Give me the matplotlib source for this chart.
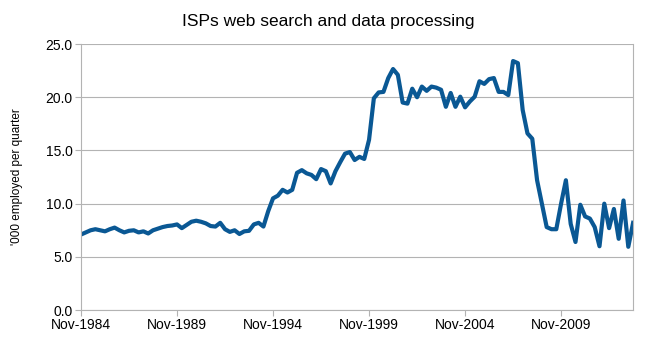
import numpy as np
import pandas as pd
import matplotlib
matplotlib.use("Agg")
import matplotlib.pyplot as plt

# Serie trimestral, Nov-1984 a Aug-2013 (miles de empleados)
valores = [7.1, 7.3, 7.5, 7.6, 7.5, 7.4, 7.6, 7.75, 7.5, 7.3,
           7.45, 7.5, 7.3, 7.4, 7.2, 7.5, 7.65, 7.8, 7.9, 7.95,
           8.05, 7.7, 8.0, 8.3, 8.4, 8.3, 8.15, 7.9, 7.85, 8.2,
           7.6, 7.35, 7.5, 7.15, 7.4, 7.45, 8.05, 8.2, 7.85, 9.3,
           10.5, 10.75, 11.3, 11.05, 11.3, 12.9, 13.15, 12.85, 12.7, 12.3,
           13.25, 13.05, 11.9, 13.05, 13.9, 14.7, 14.85, 14.1, 14.4, 14.2,
           16.0, 19.9, 20.45, 20.5, 21.8, 22.65, 22.1, 19.5, 19.4, 20.8,
           20.0, 21.0, 20.6, 21.0, 20.9, 20.7, 19.1, 20.4, 19.1, 20.05,
           19.05, 19.6, 20.05, 21.5, 21.25, 21.7, 21.8, 20.5, 20.5, 20.2,
           23.4, 23.2, 18.8, 16.6, 16.1, 12.2, 10.0, 7.8, 7.6, 7.6,
           10.0, 12.2, 8.1, 6.4, 9.9, 8.8, 8.6, 7.8, 6.0, 10.0,
           7.7, 9.5, 6.7, 10.3, 5.95, 8.2]

fechas = pd.date_range("1984-11-01", periods=len(valores), freq="3MS")
etiquetas = [f.strftime("%b-%Y") for f in fechas]
paso_etiquetas = 20
y_ticks = [0, 5, 10, 15, 20, 25]

plt.rcParams['font.family'] = ['Liberation Sans', 'DejaVu Sans']

fig = plt.figure(figsize=(6.5, 3.52), dpi=100)
ax = fig.add_axes([0.1246, 0.119, 0.8494, 0.756])

x = np.arange(len(valores))
ax.plot(x, valores, color='#0a5894', linewidth=3.0, solid_joinstyle='round')

ax.set_xlim(0, len(valores) - 1)
ax.set_ylim(0, 25)
ax.set_yticks(y_ticks)
ax.set_yticklabels([f"{v:.1f}" for v in y_ticks], fontsize=10)
pos = x[::paso_etiquetas]
ax.set_xticks(pos)
ax.set_xticklabels([etiquetas[i] for i in pos], fontsize=10)

ax.grid(axis='y', color='#b3b3b3', linewidth=0.8)
ax.set_axisbelow(True)
for s in ax.spines.values():
    s.set_color('#b3b3b3')
    s.set_linewidth(0.8)
ax.spines['top'].set_visible(False)
ax.tick_params(axis='both', color='#b3b3b3', length=4, width=0.8, pad=2)

# Etiqueta del eje y y título centrado en la figura
fig.text(0.026, 0.497, "'000 employed per quarter", fontsize=8.5,
         rotation=90, ha='center', va='center')
fig.text(0.505, 0.94, "ISPs web search and data processing", fontsize=12.5,
         ha='center', va='center')

fig.savefig("out.png", dpi=100)
